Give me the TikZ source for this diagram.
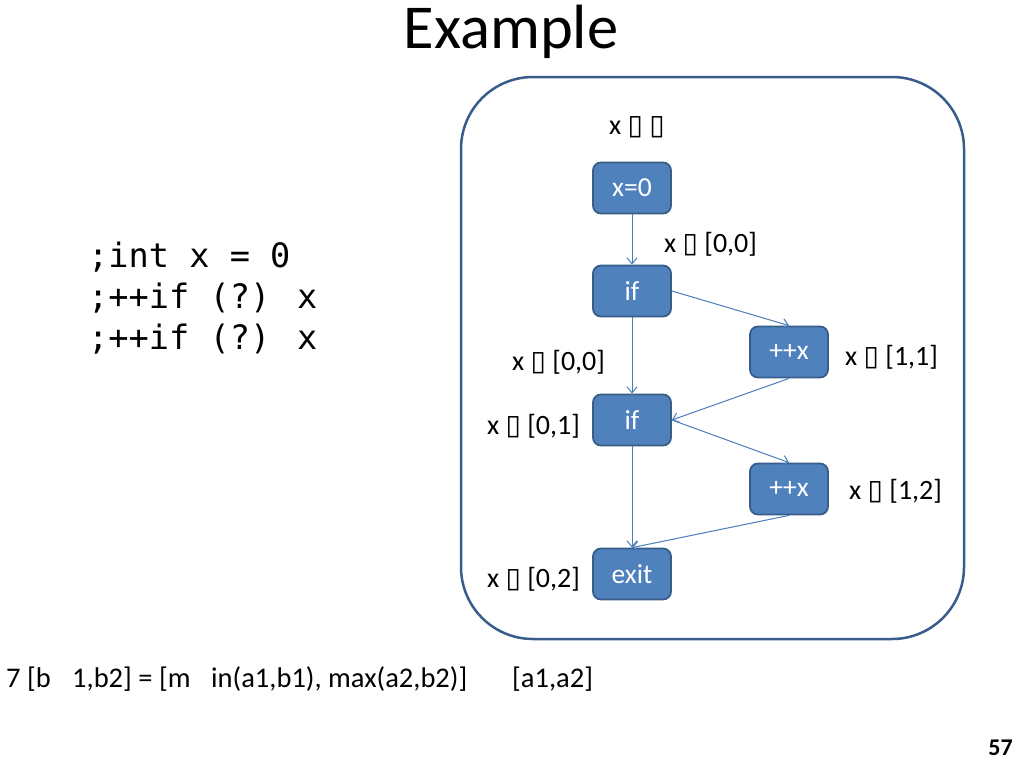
\documentclass[tikz,border=0pt]{standalone}
\usepackage{fontspec}
\setmainfont{Carlito}
\newfontfamily\codefont{DejaVu Sans Mono}
\newfontfamily\symfont{DejaVu Sans}
\usetikzlibrary{arrows.meta}
\definecolor{nodefill}{HTML}{4F81BD}
\definecolor{nodeedge}{HTML}{385D8A}
\definecolor{arrowcol}{HTML}{4A7EBB}
\newcommand\tofu{{\symfont\char"25AF}}
\tikzset{
  blk/.style={draw=nodeedge, line width=1.8pt, fill=nodefill, rounded corners=8pt,
    minimum width=78pt, minimum height=51pt, inner sep=0pt, text=white, font=\fontsize{27.5}{32}\selectfont},
  lbl/.style={anchor=west, inner sep=0pt, font=\fontsize{28}{32}\selectfont},
  flbl/.style={anchor=west, inner sep=0pt, font=\fontsize{28.5}{32}\selectfont},
  conn/.style={draw=arrowcol, line width=1pt, -{Straight Barb[length=6pt,width=10pt,line width=1pt]}},
  codeline/.style={anchor=west, inner sep=0pt, font=\codefont\fontsize{33.6}{40}\selectfont}
}
\begin{document}
\begin{tikzpicture}[x=1pt,y=-1pt]
\useasboundingbox (0,0) rectangle (1024,768);
\fill[white] (0,0) rectangle (1024,768);
% title
\node[inner sep=0pt, font=\fontsize{62.5}{70}\selectfont] (title) at (511,32) {Example};
% code
\node[codeline] (c1) at (88,257) {;int x = 0};
\node[codeline] (c2) at (88,298) {;++if (?) x};
\node[codeline] (c3) at (88,339) {;++if (?) x};
% container
\draw[draw=nodeedge, line width=2.5pt, rounded corners=72pt] (461,77) rectangle (964,639);
% nodes
\node[blk] (x0) at (632,188) {x=0};
\node[blk] (if1) at (632,291) {if};
\node[blk] (inc1) at (789,352) {++x};
\node[blk] (if2) at (632,420) {if};
\node[blk] (inc2) at (789,489) {++x};
\node[blk] (exit) at (632,574) {exit};
% connectors
\draw[conn] (x0.south) -- (if1.north);
\draw[conn] (if1.east) -- (inc1.north);
\draw[conn] (if1.south) -- (if2.north);
\draw[conn] (inc1.south) -- (if2.east);
\draw[conn] (if2.east) -- (inc2.north);
\draw[conn] (if2.south) -- (exit.north);
\draw[conn] (inc2.south) -- (exit.north);
% labels
\node[lbl] (l0) at (609,127) {x \tofu{} \tofu};
\node[lbl] (l1) at (664,244) {x \tofu{} [0,0]};
\node[lbl] (l2) at (512,362) {x \tofu{} [0,0]};
\node[lbl] (l3) at (845,357) {x \tofu{} [1,1]};
\node[lbl] (l4) at (487,426) {x \tofu{} [0,1]};
\node[lbl] (l5) at (849,491) {x \tofu{} [1,2]};
\node[lbl] (l6) at (487,579) {x \tofu{} [0,2]};
% bottom formula
\node[flbl] (f1) at (6,679) {7 [b};
\node[flbl] (f2) at (72,679) {1,b2] = [m};
\node[flbl] (f3) at (211,679) {in(a1,b1), max(a2,b2)]};
\node[flbl] (f4) at (512,679) {[a1,a2]};
% page number
\node[inner sep=0pt, anchor=east, font=\bfseries\fontsize{24}{28}\selectfont] (pg) at (1013,748) {57};
\end{tikzpicture}
\end{document}
